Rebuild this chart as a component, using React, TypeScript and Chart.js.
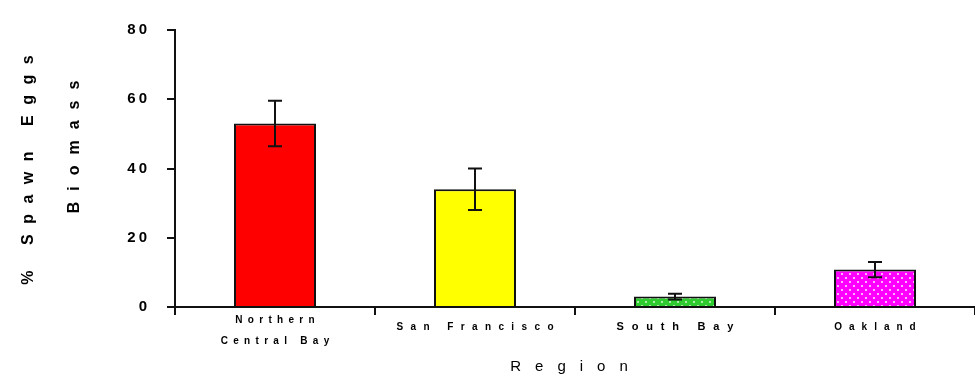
import { useEffect, useRef } from "react";
import { Chart, registerables } from "chart.js";
Chart.register(...registerables);

const categories: string[][] = [["Northern", "Central Bay"], ["San Francisco"], ["South Bay"], ["Oakland"]];
const values = [53, 34, 3, 10.8];
const errors = [6.6, 6, 0.8, 2.2];
const yTicks = [0, 20, 40, 60, 80];
const yTitleLines = ["% Spawn Eggs", "Biomass"];
const xTitle = "Region";

// styling (not data)
const labelStyle = [
  { font: "bold 10px 'Liberation Sans'", spacing: 5.3 },
  { font: "bold 10px 'Liberation Sans'", spacing: 7.4 },
  { font: "bold 11px 'Liberation Sans'", spacing: 7.8 },
  { font: "bold 10px 'Liberation Sans'", spacing: 7 },
];

function drawSpaced(ctx: CanvasRenderingContext2D, text: string, cx: number, cy: number, spacing: number) {
  const chars = Array.from(text);
  const widths = chars.map((c) => ctx.measureText(c).width);
  const total = widths.reduce((a, b) => a + b, 0) + spacing * (chars.length - 1);
  let x = cx - total / 2;
  ctx.textAlign = "left";
  ctx.textBaseline = "middle";
  chars.forEach((c, i) => {
    ctx.fillText(c, x, cy);
    x += widths[i] + spacing;
  });
}

function makePattern(bg: string, dot: string, size: number) {
  const c = document.createElement("canvas");
  c.width = size;
  c.height = size;
  const g = c.getContext("2d")!;
  g.fillStyle = bg;
  g.fillRect(0, 0, size, size);
  g.fillStyle = dot;
  g.fillRect(1, 1, 2, 2);
  g.fillRect(1 + size / 2, 1 + size / 2, 2, 2);
  return g.createPattern(c, "repeat")!;
}

export default function App() {
  const ref = useRef<HTMLCanvasElement>(null);
  useEffect(() => {
    document.body.style.margin = "0";
    const canvas = ref.current!;
    const fills: any[] = [
      "#ff0000",
      "#ffff00",
      makePattern("#2ecc2e", "#a8eea8", 8),
      makePattern("#ff00ff", "#ffb0ff", 8),
    ];

    const textPlugin = {
      id: "customText",
      beforeDraw(chart: any) {
        chart.ctx.letterSpacing = "3px";
      },
      afterDatasetsDraw(chart: any) {
        const ctx = chart.ctx as CanvasRenderingContext2D;
        const ys = chart.scales.y;
        const meta = chart.getDatasetMeta(0);
        ctx.save();
        ctx.letterSpacing = "0px";
        ctx.strokeStyle = "#111";
        ctx.lineWidth = 2;
        values.forEach((v, i) => {
          const x = meta.data[i].x;
          const yt = ys.getPixelForValue(v + errors[i]);
          const yb = ys.getPixelForValue(v - errors[i]);
          ctx.beginPath();
          ctx.moveTo(x, yt);
          ctx.lineTo(x, yb);
          ctx.moveTo(x - 7, yt);
          ctx.lineTo(x + 7, yt);
          ctx.moveTo(x - 7, yb);
          ctx.lineTo(x + 7, yb);
          ctx.stroke();
        });
        ctx.restore();
      },
      afterDraw(chart: any) {
        const ctx = chart.ctx as CanvasRenderingContext2D;
        const xs = chart.scales.x;
        const area = chart.chartArea;
        ctx.save();
        ctx.letterSpacing = "0px";
        ctx.fillStyle = "#000";
        categories.forEach((lines, i) => {
          const cx = xs.getPixelForValue(i);
          ctx.font = labelStyle[i].font;
          if (lines.length === 2) {
            drawSpaced(ctx, lines[0], cx, area.bottom + 13, labelStyle[i].spacing);
            drawSpaced(ctx, lines[1], cx, area.bottom + 34, labelStyle[i].spacing);
          } else {
            drawSpaced(ctx, lines[0], cx, area.bottom + 20, labelStyle[i].spacing);
          }
        });
        ctx.font = "15px 'Liberation Sans'";
        drawSpaced(ctx, xTitle, (area.left + area.right) / 2 - 6, area.bottom + 60, 14);
        // y title
        ctx.font = "bold 16px 'Liberation Sans'";
        ctx.save();
        ctx.translate(29, 170);
        ctx.rotate(-Math.PI / 2);
        drawSpaced(ctx, yTitleLines[0], 0, 0, 10.5);
        ctx.restore();
        ctx.save();
        ctx.translate(75, 147);
        ctx.rotate(-Math.PI / 2);
        drawSpaced(ctx, yTitleLines[1], 0, 0, 11);
        ctx.restore();
        ctx.restore();
      },
    };

    const chart = new Chart(canvas, {
      type: "bar",
      data: {
        labels: categories.map((c) => c.join(" ")),
        datasets: [
          {
            data: values,
            backgroundColor: fills,
            borderColor: "#111",
            borderWidth: 2,
            borderSkipped: "bottom",
            categoryPercentage: 1,
            barPercentage: 0.41,
          },
        ],
      },
      options: {
        responsive: false,
        animation: false,
        devicePixelRatio: 1,
        layout: { padding: { top: 30, right: 0, left: 0, bottom: 0 } },
        plugins: { legend: { display: false }, tooltip: { enabled: false }, title: { display: false } },
        scales: {
          x: {
            offset: true,
            afterFit: (s: any) => {
              s.height = 70;
            },
            grid: {
              offset: true,
              drawOnChartArea: false,
              drawTicks: true,
              tickLength: 8,
              color: "#111",
              lineWidth: 2,
            },
            border: { display: true, color: "#111", width: 2 },
            ticks: { callback: () => "", padding: 0 },
          },
          y: {
            min: 0,
            max: 80,
            afterFit: (s: any) => {
              s.width = 175;
            },
            afterBuildTicks: (s: any) => {
              s.ticks = yTicks.map((v) => ({ value: v }));
            },
            grid: {
              drawOnChartArea: false,
              drawTicks: true,
              tickLength: 8,
              color: "#111",
              lineWidth: 2,
            },
            border: { display: true, color: "#111", width: 2 },
            ticks: {
              padding: 17,
              color: "#000",
              font: { family: "'Liberation Sans'", size: 15, weight: "bold" },
            },
          },
        },
      },
      plugins: [textPlugin],
    });
    return () => chart.destroy();
  }, []);
  return (
    <div style={{ width: 975, height: 377 }}>
      <canvas ref={ref} width={975} height={377} style={{ display: "block" }} />
    </div>
  );
}
